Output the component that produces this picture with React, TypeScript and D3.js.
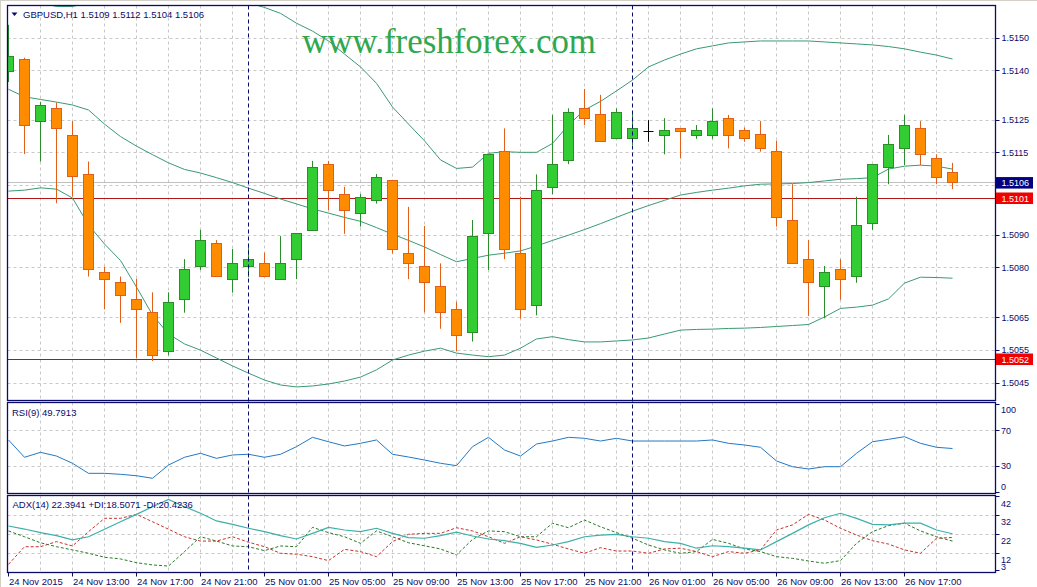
import React from 'react';
import * as d3 from 'd3';

// ---------- DATA ----------
const symbolHeader = 'GBPUSD,H1  1.5109 1.5112 1.5104 1.5106';
const rsiHeader = 'RSI(9) 49.7913';
const adxHeader = 'ADX(14) 22.3941 +DI:18.5071 -DI:20.4236';
const watermark = 'www.freshforex.com';

const opens = [1.51397, 1.51435, 1.51247, 1.51286, 1.51204, 1.51085, 1.50787, 1.50757, 1.50705, 1.50665,
  1.50545, 1.50705, 1.50804, 1.50875, 1.50766, 1.50804, 1.50814, 1.50766, 1.50827, 1.50915,
  1.51116, 1.51024, 1.50966, 1.51006, 1.51065, 1.50845, 1.50806, 1.50745, 1.50674, 1.50604,
  1.50906, 1.51156, 1.50845, 1.50686, 1.51044, 1.51126, 1.51286, 1.51266, 1.51195, 1.51195,
  1.51215, 1.51203, 1.51225, 1.51203, 1.51203, 1.51256, 1.51217, 1.51205, 1.51156, 1.50946,
  1.50827, 1.50743, 1.50796, 1.50774, 1.50936, 1.51105, 1.51164, 1.51225, 1.51134, 1.5109];
const highs = [1.51540, 1.51440, 1.51305, 1.51304, 1.51247, 1.51124, 1.50804, 1.50774, 1.50767, 1.50726,
  1.50726, 1.50827, 1.50916, 1.50885, 1.50858, 1.50868, 1.50847, 1.50897, 1.50906, 1.51126,
  1.51126, 1.51047, 1.51025, 1.51086, 1.51065, 1.50986, 1.50928, 1.50814, 1.50697, 1.50946,
  1.51146, 1.51225, 1.51017, 1.51085, 1.51266, 1.51286, 1.51345, 1.51327, 1.51286, 1.51268,
  1.51250, 1.51256, 1.51225, 1.51235, 1.51286, 1.51266, 1.51227, 1.51247, 1.51187, 1.51055,
  1.50885, 1.50806, 1.50827, 1.51017, 1.51116, 1.51205, 1.51266, 1.51247, 1.51146, 1.5112];
const lows = [1.51366, 1.51147, 1.51124, 1.50997, 1.51017, 1.50774, 1.50674, 1.50633, 1.50525, 1.50517,
  1.50534, 1.50664, 1.50794, 1.50775, 1.50725, 1.50772, 1.50773, 1.50766, 1.50766, 1.50915,
  1.50976, 1.50904, 1.50926, 1.50996, 1.50844, 1.50766, 1.50665, 1.50615, 1.50546, 1.50576,
  1.50794, 1.50827, 1.50646, 1.50656, 1.51024, 1.51116, 1.51235, 1.51186, 1.51195, 1.51174,
  1.51184, 1.51146, 1.51134, 1.51193, 1.51193, 1.51164, 1.51184, 1.51154, 1.50926, 1.50814,
  1.50654, 1.50647, 1.50703, 1.50755, 1.50916, 1.51055, 1.51113, 1.51113, 1.51055, 1.5104];
const closes = [1.51445, 1.51234, 1.51295, 1.51225, 1.51077, 1.50795, 1.50766, 1.50717, 1.50674, 1.50534,
  1.50696, 1.50796, 1.50885, 1.50775, 1.50814, 1.50827, 1.50773, 1.50814, 1.50906, 1.51106,
  1.51036, 1.50976, 1.51015, 1.51076, 1.50857, 1.50814, 1.50756, 1.50665, 1.50595, 1.50897,
  1.51146, 1.50857, 1.50674, 1.51036, 1.51116, 1.51274, 1.51256, 1.51186, 1.51274, 1.51225,
  1.51215, 1.51217, 1.51215, 1.51217, 1.51247, 1.51203, 1.51195, 1.51164, 1.50954, 1.50814,
  1.50755, 1.50787, 1.50766, 1.50928, 1.51116, 1.51176, 1.51235, 1.51146, 1.51075, 1.5106];

const bbUpper = [1.51646, 1.51625, 1.51607, 1.51596, 1.51596, 1.51607, 1.51625, 1.51640, 1.51646, 1.51652,
  1.51652, 1.51646, 1.51640, 1.51631, 1.51619, 1.51607, 1.51593, 1.51575, 1.51545, 1.51521,
  1.51491, 1.51451, 1.51412, 1.51362, 1.51290, 1.51238, 1.51187, 1.51129, 1.51103, 1.51107,
  1.51149, 1.51154, 1.51152, 1.51152, 1.51179, 1.51235, 1.51281, 1.51307, 1.51339, 1.51372,
  1.51412, 1.51433, 1.51451, 1.51467, 1.51476, 1.51485, 1.51488, 1.51491, 1.51491, 1.51491,
  1.51491, 1.51488, 1.51485, 1.51482, 1.51479, 1.51474, 1.51467, 1.51457, 1.51448, 1.51436];
const bbMiddle = [1.51344, 1.51321, 1.51313, 1.51305, 1.51296, 1.51281, 1.51238, 1.51200, 1.51171, 1.51145,
  1.51120, 1.51100, 1.51089, 1.51075, 1.51060, 1.51043, 1.51027, 1.51010, 1.50995, 1.50980,
  1.50967, 1.50954, 1.50942, 1.50923, 1.50903, 1.50884, 1.50864, 1.50841, 1.50819, 1.50829,
  1.50839, 1.50845, 1.50852, 1.50867, 1.50884, 1.50900, 1.50917, 1.50935, 1.50954, 1.50973,
  1.50990, 1.51006, 1.51022, 1.51030, 1.51037, 1.51043, 1.51050, 1.51055, 1.51056, 1.51057,
  1.51060, 1.51065, 1.51070, 1.51072, 1.51075, 1.51101, 1.51110, 1.51113, 1.51110, 1.51101];
const bbLower = [1.51034, 1.51037, 1.51044, 1.51040, 1.51013, 1.50931, 1.50873, 1.50823, 1.50742, 1.50657,
  1.50599, 1.50569, 1.50550, 1.50526, 1.50502, 1.50480, 1.50459, 1.50444, 1.50438, 1.50441,
  1.50447, 1.50456, 1.50468, 1.50490, 1.50520, 1.50535, 1.50547, 1.50556, 1.50541, 1.50535,
  1.50530, 1.50535, 1.50556, 1.50584, 1.50591, 1.50582, 1.50575, 1.50575, 1.50578, 1.50581,
  1.50587, 1.50599, 1.50611, 1.50613, 1.50614, 1.50616, 1.50617, 1.50619, 1.50622, 1.50625,
  1.50628, 1.50651, 1.50677, 1.50681, 1.50687, 1.50706, 1.50754, 1.50772, 1.50771, 1.50769];

const rsiValues = [59.5, 39.9, 45.5, 41.3, 33.1, 21.7, 21.7, 20.6, 19.0, 16.1,
  31.1, 39.9, 44.4, 38.7, 42.5, 43.3, 39.9, 43.3, 51.9, 62.5,
  57.5, 52.7, 55.7, 59.5, 43.3, 40.2, 36.8, 33.1, 30.4, 51.9,
  62.5, 48.1, 41.3, 54.9, 58.3, 62.5, 61.4, 58.3, 61.4, 58.3,
  58.3, 58.3, 58.3, 58.3, 59.5, 55.7, 53.8, 51.2, 35.7, 29.2,
  26.6, 29.2, 29.2, 44.4, 57.5, 60.2, 63.2, 55.7, 51.2, 49.8];

const adxValues = [26.5, 24.9, 23.0, 21.4, 19.1, 20.8, 24.8, 28.8, 32.7, 36.8,
  40.7, 36.8, 33.3, 29.2, 27.4, 25.3, 23.5, 21.4, 19.6, 22.6,
  25.8, 24.4, 23.5, 25.3, 22.6, 20.3, 20.0, 21.4, 23.2, 21.2,
  19.6, 18.7, 17.3, 15.2, 16.4, 18.2, 20.8, 21.7, 22.1, 20.8,
  20.0, 18.2, 17.3, 14.7, 16.0, 15.5, 14.7, 13.8, 18.2, 22.6,
  27.1, 30.9, 33.3, 30.6, 27.4, 27.1, 28.0, 28.0, 24.4, 22.4];
const plusDI = [23.9, 20.8, 17.6, 15.5, 13.8, 12.0, 9.9, 9.0, 7.0, 5.8,
  5.2, 12.9, 20.8, 18.5, 15.9, 15.5, 13.4, 15.9, 15.5, 25.8,
  23.0, 20.8, 17.3, 23.9, 20.8, 17.6, 16.0, 14.3, 11.1, 19.4,
  23.9, 23.5, 20.8, 20.8, 28.0, 25.6, 29.7, 26.1, 23.0, 20.0,
  16.4, 13.8, 12.0, 12.9, 19.4, 17.3, 14.3, 12.9, 10.2, 9.3,
  7.9, 6.7, 8.1, 17.3, 23.5, 26.7, 28.0, 23.9, 20.8, 18.5];
const minusDI = [6.1, 15.5, 15.5, 18.2, 15.9, 23.5, 30.6, 30.6, 32.7, 28.8,
  24.8, 20.8, 18.5, 18.5, 20.8, 17.9, 15.5, 12.0, 11.5, 10.2,
  8.1, 14.1, 12.9, 10.2, 18.2, 22.1, 22.6, 22.6, 25.6, 23.9,
  20.8, 17.3, 20.8, 19.1, 16.8, 14.3, 12.0, 15.0, 13.2, 13.2,
  12.0, 14.3, 14.7, 12.9, 10.2, 12.9, 12.0, 13.8, 24.4, 27.1,
  32.7, 29.7, 25.3, 21.7, 18.7, 16.9, 13.8, 12.0, 20.0, 20.4];

const timeLabelBars = [0, 4, 8, 12, 16, 20, 24, 28, 32, 36, 40, 44, 48, 52, 56];
const timeLabelTexts = ['24 Nov 2015', '24 Nov 13:00', '24 Nov 17:00', '24 Nov 21:00', '25 Nov 01:00',
  '25 Nov 05:00', '25 Nov 09:00', '25 Nov 13:00', '25 Nov 17:00', '25 Nov 21:00', '26 Nov 01:00',
  '26 Nov 05:00', '26 Nov 09:00', '26 Nov 13:00', '26 Nov 17:00'];
const daySeparatorBars = [15, 39];

const priceTicks = [1.5150, 1.5140, 1.5125, 1.5115, 1.5105, 1.5090, 1.5080, 1.5065, 1.5055, 1.5045];
const rsiTicks = [100, 70, 30, 0];
const rsiGrid = [70, 30];
const adxTicks = [42, 32, 22, 12, 3];
const adxGrid = [32, 22, 12];
const levelLines = [1.5101, 1.5052];
const bidPrice = 1.5106;

// ---------- STYLE ----------
const W = 1037, H = 587;
const L = 7.5, R = 995.5;
const mainTop = 5.5, mainBottom = 400.5;
const rsiTop = 402.5, rsiBottom = 493.5;
const adxTop = 495.5, adxBottom = 572.5;
const NAVY = '#0b0b6b';
const GRID = '#c8c8c8';
const FONT = '"Liberation Sans", Arial, sans-serif';

const x = d3.scaleLinear().domain([0, 59]).range([8.5, 952.5]);
const y = d3.scaleLinear().domain([1.5045, 1.5150]).range([383, 38]);
const yr = d3.scaleLinear().domain([0, 100]).range([492.5, 404.2]);
const ya = d3.scaleLinear().domain([3, 42]).range([570.2, 496.9]);

const snap = (v: number) => Math.round(v - 0.5) + 0.5;

export default function App() {
  const idx = d3.range(opens.length);
  const bandLine = (arr: number[]) =>
    d3.line<number>().x((i) => x(i)).y((i) => y(arr[i]))(idx) || '';
  const rsiLine = d3.line<number>().x((i) => x(i)).y((i) => yr(rsiValues[i]))(idx) || '';
  const adxLine = (arr: number[]) =>
    d3.line<number>().x((i) => x(i)).y((i) => ya(arr[i]))(idx) || '';
  const gridBars = idx.filter((i) => i > 0 && i % 2 === 0);

  const vGrid = (top: number, bottom: number, key: string) =>
    gridBars.map((i) => (
      <line key={key + i} x1={x(i)} x2={x(i)} y1={top} y2={bottom} stroke={GRID} strokeDasharray="3,3" />
    ));

  return (
    <svg width={W} height={H} style={{ position: 'fixed', left: 0, top: 0, background: '#fff' }}
      fontFamily={FONT}>
      <defs>
        <clipPath id="clipMain"><rect x={L} y={mainTop} width={R - L} height={mainBottom - mainTop} /></clipPath>
        <clipPath id="clipRsi"><rect x={L} y={rsiTop} width={R - L} height={rsiBottom - rsiTop} /></clipPath>
        <clipPath id="clipAdx"><rect x={L} y={adxTop} width={R - L} height={adxBottom - adxTop} /></clipPath>
      </defs>
      <rect x={0} y={0} width={W} height={H} fill="#fff" />
      <line x1={0.5} x2={0.5} y1={0} y2={H} stroke="#d4d0c8" />
      <line x1={0} x2={W} y1={0.5} y2={0.5} stroke="#d4d0c8" />

      {/* MAIN PANEL */}
      <g clipPath="url(#clipMain)">
        {vGrid(mainTop, mainBottom, 'mg')}
        {priceTicks.map((p) => (
          <line key={'pg' + p} x1={L} x2={R} y1={snap(y(p))} y2={snap(y(p))} stroke={GRID} strokeDasharray="3,3" />
        ))}
        <text x={302} y={53} fontFamily='"Liberation Serif", "Times New Roman", serif' fontSize={36}
          fill="#2ea84f" textLength={294} lengthAdjust="spacingAndGlyphs">{watermark}</text>
        <line x1={L} x2={R} y1={snap(y(bidPrice))} y2={snap(y(bidPrice))} stroke="#c0c0c0" />
        {levelLines.map((p) => (
          <line key={'lv' + p} x1={L} x2={R} y1={snap(y(p))} y2={snap(y(p))} stroke="#b01818" />
        ))}
        <path d={bandLine(bbUpper)} fill="none" stroke="#3a9a72" strokeWidth={1} />
        <path d={bandLine(bbMiddle)} fill="none" stroke="#3a9a72" strokeWidth={1} />
        <path d={bandLine(bbLower)} fill="none" stroke="#3a9a72" strokeWidth={1} />
        {idx.map((i) => {
          const o = opens[i], c = closes[i];
          const cx = x(i);
          if (Math.abs(o - c) < 0.000005) {
            return (
              <g key={'c' + i}>
                <line x1={cx} x2={cx} y1={y(highs[i])} y2={y(lows[i])} stroke="#000" />
                <line x1={cx - 5} x2={cx + 5} y1={snap(y(o))} y2={snap(y(o))} stroke="#000" />
              </g>
            );
          }
          const bull = c > o;
          const stroke = bull ? '#2a8c2a' : '#e0601a';
          const fill = bull ? '#32cd32' : '#ff8c00';
          const top = y(Math.max(o, c));
          const bot = y(Math.min(o, c));
          const rt = snap(top);
          const rb = Math.max(snap(bot), rt + 1);
          return (
            <g key={'c' + i}>
              <line x1={cx} x2={cx} y1={y(highs[i])} y2={y(lows[i])} stroke={stroke} />
              <rect x={cx - 5} y={rt} width={10} height={rb - rt} fill={fill} stroke={stroke} />
            </g>
          );
        })}
      </g>

      {/* RSI PANEL */}
      <g clipPath="url(#clipRsi)">
        {vGrid(rsiTop, rsiBottom, 'rg')}
        {rsiGrid.map((v) => (
          <line key={'rgh' + v} x1={L} x2={R} y1={snap(yr(v))} y2={snap(yr(v))} stroke={GRID} strokeDasharray="3,3" />
        ))}
        <path d={rsiLine} fill="none" stroke="#2279c6" strokeWidth={1} />
      </g>

      {/* ADX PANEL */}
      <g clipPath="url(#clipAdx)">
        {vGrid(adxTop, adxBottom, 'ag')}
        {adxGrid.map((v) => (
          <line key={'agh' + v} x1={L} x2={R} y1={snap(ya(v))} y2={snap(ya(v))} stroke={GRID} strokeDasharray="3,3" />
        ))}
        <path d={adxLine(plusDI)} fill="none" stroke="#267a26" strokeWidth={1} strokeDasharray="3,2" />
        <path d={adxLine(minusDI)} fill="none" stroke="#c8302a" strokeWidth={1} strokeDasharray="3,2" />
        <path d={adxLine(adxValues)} fill="none" stroke="#3cb0a8" strokeWidth={1.2} />
      </g>

      {/* day separators */}
      {daySeparatorBars.map((b) => (
        <line key={'ds' + b} x1={x(b)} x2={x(b)} y1={mainTop} y2={adxBottom} stroke={NAVY} strokeDasharray="4,3" />
      ))}

      {/* panel borders */}
      {[[mainTop, mainBottom], [rsiTop, rsiBottom], [adxTop, adxBottom]].map(([t, b], k) => (
        <rect key={'b' + k} x={L} y={t} width={R - L} height={b - t} fill="none" stroke={NAVY} strokeWidth={1.3} />
      ))}

      {/* headers */}
      <path d="M11.5,12.5 L17.5,12.5 L14.5,16 Z" fill={NAVY} />
      <text x={23} y={17.5} fontSize={9.5} fill={NAVY}>{symbolHeader}</text>
      <text x={12} y={415.5} fontSize={9.5} fill={NAVY}>{rsiHeader}</text>
      <text x={12.5} y={507.7} fontSize={9.5} fill={NAVY}>{adxHeader}</text>

      {/* price axis */}
      {priceTicks.filter((p) => p !== 1.5105).map((p) => (
        <g key={'pt' + p}>
          <line x1={R} x2={R + 4} y1={snap(y(p))} y2={snap(y(p))} stroke={NAVY} />
          <text x={1001.5} y={y(p) + 3.3} fontSize={9} fill={NAVY}>{p.toFixed(4)}</text>
        </g>
      ))}
      <rect x={996} y={y(bidPrice) - 5.5} width={37} height={11.5} fill="#000080" />
      <text x={1001.5} y={y(bidPrice) + 3.8} fontSize={9} fill="#fff">{bidPrice.toFixed(4)}</text>
      {levelLines.map((p) => (
        <g key={'lb' + p}>
          <rect x={996} y={y(p) - 6.5} width={37} height={11.5} fill="#f00000" />
          <text x={1001.5} y={y(p) + 2.8} fontSize={9} fill="#fff">{p.toFixed(4)}</text>
        </g>
      ))}

      {/* RSI axis */}
      {rsiTicks.map((v) => (
        <g key={'rt' + v}>
          <line x1={R} x2={R + 4} y1={snap(yr(v))} y2={snap(yr(v))} stroke={NAVY} />
          <text x={1001} y={Math.min(Math.max(yr(v), 410), 487) + 3.3} fontSize={9} fill={NAVY}>{v}</text>
        </g>
      ))}

      {/* ADX axis */}
      {adxTicks.map((v) => (
        <g key={'at' + v}>
          <line x1={R} x2={R + 4} y1={snap(ya(v))} y2={snap(ya(v))} stroke={NAVY} />
          <text x={1001} y={Math.min(Math.max(ya(v) + 6.5, 502), 567) + 3.3} fontSize={9} fill={NAVY}>{v}</text>
        </g>
      ))}

      {/* time axis */}
      {timeLabelBars.map((b, k) => (
        <g key={'tl' + b}>
          <line x1={x(b)} x2={x(b)} y1={adxBottom} y2={adxBottom + 4} stroke={NAVY} />
          <text x={x(b) + 0.5} y={585} fontSize={9.5} fill={NAVY}>{timeLabelTexts[k]}</text>
        </g>
      ))}
    </svg>
  );
}
